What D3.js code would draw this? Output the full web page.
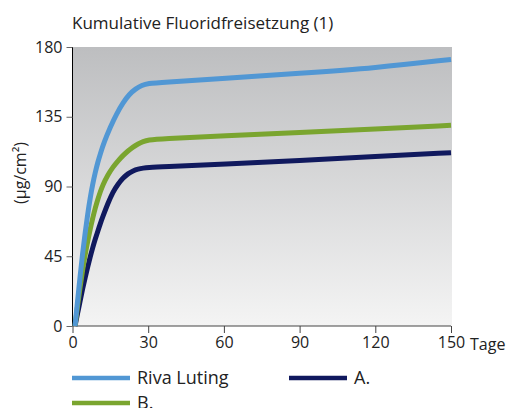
<!DOCTYPE html>
<html>
<head>
<meta charset="utf-8">
<script src="https://cdn.jsdelivr.net/npm/d3@7"></script>
<style>
  body{margin:0;background:#fff;}
  svg{font-family:"Open Sans",sans-serif;}
</style>
</head>
<body>
<script>
// [day, µg/cm²]
const rivaLuting = [[1,0],[2,16],[3,32],[4,47],[5,60],[6,72],[7,82.5],[8,91.5],[9,99],[10,105.5],[11,111],[12.5,118.5],[15,128.5],[17.5,137],[20,144],[22.5,149.5],[25,153],[27.5,155.3],[30,156.5],[35,157.2],[60,159.6],[90,163],[120,166.5],[150,172]]
const seriesB = [[1,0],[2,13],[3,25],[4,36],[5,46],[6,54.5],[7,62.5],[8,69.5],[9,76],[10,81.5],[11,86.5],[12,91],[14,97.5],[16,102.5],[18,106.5],[20,110],[22,113],[24,115.5],[26,117.5],[28,119],[30,120],[35,120.8],[60,122.6],[90,124.8],[120,127.1],[150,129.5]]
const seriesA = [[1,0],[2,8],[3,16],[4,24],[5,31],[6,38],[7,44.5],[8,50.5],[9,56],[10,61],[11,66],[12,70.5],[14,79],[16,86.5],[18,91.5],[20,95.5],[22,98.3],[24,100.2],[26,101.3],[28,101.9],[30,102.3],[35,102.8],[60,104.3],[90,106.8],[120,109.3],[150,111.8]]
const xTicks = [0,30,60,90,120,150]
const yTicks = [0,45,90,135,180]
const legendItems = [
  {name:"Riva Luting",color:"#5197d4",data:rivaLuting},
  {name:"A.",color:"#10195e",data:seriesA},
  {name:"B.",color:"#7aa52f",data:seriesB}
]

const W=507,H=408
const svg=d3.select("body").append("svg").attr("width",W).attr("height",H)
const x=d3.scaleLinear().domain([0,150]).range([72.5,451])
const y=d3.scaleLinear().domain([0,180]).range([326,47])

const grad=svg.append("defs").append("linearGradient").attr("id","bg")
  .attr("x1",0).attr("y1",0).attr("x2",0).attr("y2",1)
grad.append("stop").attr("offset","0%").attr("stop-color","#bdbec0")
grad.append("stop").attr("offset","100%").attr("stop-color","#f4f4f4")

svg.append("rect").attr("x",x(0)).attr("y",y(180))
  .attr("width",x(150)-x(0)+1).attr("height",y(0)-y(180))
  .attr("fill","url(#bg)")

svg.append("text").attr("x",72).attr("y",29).attr("font-size",17).attr("fill","#222")
  .text("Kumulative Fluoridfreisetzung (1)")

// axes
const yAxis=svg.append("g").attr("transform",`translate(${x(0)},0)`)
  .call(d3.axisLeft(y).tickValues(yTicks).tickSize(6).tickPadding(4))
yAxis.select(".domain").attr("stroke","#000").attr("d",`M0,${y(180)}V${y(0)}`)
yAxis.selectAll(".tick line").attr("stroke","#666")
yAxis.selectAll("text").attr("font-size",16).attr("fill","#222").attr("font-family","Open Sans")

const xAxis=svg.append("g").attr("transform",`translate(0,${y(0)})`)
  .call(d3.axisBottom(x).tickValues(xTicks).tickSize(7).tickPadding(4))
xAxis.select(".domain").attr("stroke","#444").attr("d",`M${x(0)},0H${x(150)}`)
xAxis.selectAll(".tick line").attr("stroke","#444")
xAxis.selectAll("text").attr("font-size",16).attr("fill","#222").attr("font-family","Open Sans")

svg.append("text").attr("x",x(150)+19).attr("y",y(0)+24).attr("font-size",16).attr("fill","#222")
  .text("Tage")

svg.append("text").attr("transform",`translate(26,173) rotate(-90)`)
  .attr("text-anchor","middle").attr("font-size",16).attr("fill","#222")
  .text("(µg/cm²)")

const line=d3.line().x(d=>x(d[0])).y(d=>y(d[1])).curve(d3.curveBasis)
svg.append("g").selectAll("path").data([seriesA,seriesB,rivaLuting].map(d=>legendItems.find(l=>l.data===d)))
  .join("path")
  .attr("d",d=>line(d.data))
  .attr("fill","none").attr("stroke",d=>d.color).attr("stroke-width",5)

// legend
const lg=svg.append("g")
const pos=[[72,378],[289,378],[72,403]]
legendItems.forEach((d,i)=>{
  lg.append("line").attr("x1",pos[i][0]).attr("x2",pos[i][0]+58)
    .attr("y1",pos[i][1]).attr("y2",pos[i][1]).attr("stroke",d.color).attr("stroke-width",4.5)
  lg.append("text").attr("x",pos[i][0]+65).attr("y",pos[i][1]+6).attr("font-size",18).attr("fill","#222")
    .text(d.name)
})
</script>
</body>
</html>
